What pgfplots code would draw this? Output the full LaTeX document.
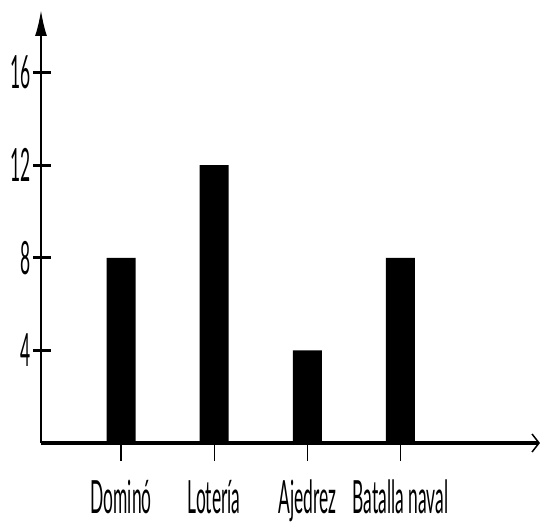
\documentclass[border=0pt]{standalone}
\usepackage{fontspec}
\setmainfont{Lato}[FakeStretch=0.38]
\usepackage{pgfplots}
\pgfplotsset{compat=1.18}
\usetikzlibrary{arrows.meta}
\begin{document}
\begin{tikzpicture}
\begin{axis}[
    scale only axis,
    width=499bp, height=433bp,
    xmin=0.14, xmax=5.5,
    ymin=0, ymax=18.7,
    axis lines=left,
    x axis line style={line width=4.2bp, -{Straight Barb[length=7bp,width=18bp,line width=1.5bp]}},
    y axis line style={line width=2.2bp, -{Latex[length=26bp,width=12bp]}},
    xtick={1,2,3,4},
    xticklabels={Dominó, Lotería, Ajedrez, Batalla naval},
    ytick={4,8,12,16},
    tick align=center,
    major tick length=18bp,
    x tick style={line width=1.2bp, black, yshift=-9bp},
    y tick style={line width=3.2bp, black, xshift=1.5bp},
    /pgf/number format/assume math mode=true,
    ticklabel style={font=\fontsize{46}{46}\selectfont, inner sep=2bp},
    xticklabel style={yshift=-26bp},
    yticklabel style={xshift=1bp},
]
  \addplot[ybar, bar width=29bp, fill=black, draw=none] coordinates {(1,8)(2,12)(3,4)(4,8)};
\end{axis}
\pgfresetboundingbox
\path (-41bp,-82bp) rectangle (499bp,443bp);
\end{tikzpicture}
\end{document}
